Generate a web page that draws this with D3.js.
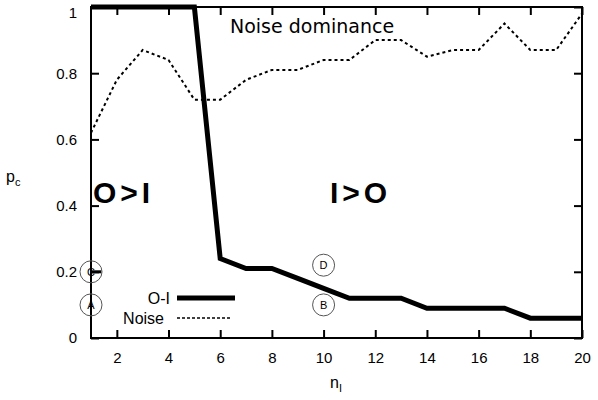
<!DOCTYPE html>
<html><head><meta charset="utf-8">
<script src="https://cdn.jsdelivr.net/npm/d3@7"></script>
<style>body{margin:0;background:#fff}svg{font-family:"Liberation Sans",Arial,sans-serif}</style>
</head><body><svg id="c" width="598" height="400"></svg>
<script>
let nValues = d3.range(1, 21);
let oiValues = [1, 1, 1, 1, 1, 0.24, 0.21, 0.21, 0.18, 0.15, 0.12, 0.12, 0.12, 0.09, 0.09, 0.09, 0.09, 0.06, 0.06, 0.06];
let noiseValues = [0.62, 0.78, 0.87, 0.84, 0.72, 0.72, 0.78, 0.81, 0.81, 0.84, 0.84, 0.9, 0.9, 0.85, 0.87, 0.87, 0.95, 0.87, 0.87, 0.98];
let xTicks = [2, 4, 6, 8, 10, 12, 14, 16, 18, 20];
let yTicks = [0, 0.2, 0.4, 0.6, 0.8, 1];
let markers = [{l: "C", n: 1, p: 0.2}, {l: "A", n: 1, p: 0.1}, {l: "D", n: 10, p: 0.22}, {l: "B", n: 10, p: 0.1}];

let svg = d3.select("#c");
let x = d3.scaleLinear().domain([1, 20]).range([91, 582]);
let y = d3.scaleLinear().domain([0, 1]).range([338, 7]);

// inward ticks on all sides
svg.append("g").attr("transform", "translate(0,338)")
  .call(d3.axisBottom(x).tickValues(xTicks).tickSize(-8).tickPadding(14).tickFormat(d3.format("d")));
svg.append("g").attr("transform", "translate(0,7)")
  .call(d3.axisTop(x).tickValues(xTicks).tickSize(-8).tickFormat(""));
svg.append("g").attr("class", "yax").attr("transform", "translate(91,0)")
  .call(d3.axisLeft(y).tickValues(yTicks).tickSize(-8).tickPadding(14).tickFormat(d => d === 0 || d === 1 ? d : d3.format(".1f")(d)));
svg.append("g").attr("transform", "translate(582,0)")
  .call(d3.axisRight(y).tickValues(yTicks).tickSize(-8).tickFormat(""));
svg.selectAll(".domain").remove();
svg.selectAll(".tick line").attr("stroke-width", 2);
svg.selectAll(".tick text").attr("font-size", 15).attr("fill", "#000");
svg.selectAll(".yax .tick text").filter(d => d === 1).attr("dy", "0.7em");
svg.append("rect").attr("x", 91).attr("y", 7).attr("width", 491).attr("height", 331)
  .attr("fill", "none").attr("stroke", "#000").attr("stroke-width", 2);

let line = d3.line().x((d, i) => x(nValues[i])).y(d => y(d));
svg.append("path").datum(noiseValues).attr("d", line).attr("fill", "none")
  .attr("stroke", "#000").attr("stroke-width", 2).attr("stroke-dasharray", "3,3");
svg.append("path").datum(oiValues).attr("d", line).attr("fill", "none")
  .attr("stroke", "#000").attr("stroke-width", 5);

svg.append("line").attr("x1", x(1)).attr("x2", x(1.4)).attr("y1", y(0.2)).attr("y2", y(0.2))
  .attr("stroke", "#000").attr("stroke-width", 3);
let mk = svg.selectAll(".mk").data(markers).enter().append("g")
  .attr("transform", d => `translate(${x(d.n)},${y(d.p)})`);
mk.append("circle").attr("r", 11).attr("fill", "none").attr("stroke", "#555").attr("stroke-width", 1);
mk.append("text").text(d => d.l).attr("text-anchor", "middle").attr("dy", 4).attr("font-size", 11);

// legend
svg.append("text").attr("x", 170).attr("y", 304).attr("text-anchor", "end").attr("font-size", 16).text("O-I");
svg.append("line").attr("x1", 177).attr("x2", 235).attr("y1", 298).attr("y2", 298).attr("stroke", "#000").attr("stroke-width", 5);
svg.append("text").attr("x", 164).attr("y", 324).attr("text-anchor", "end").attr("font-size", 16).text("Noise");
svg.append("line").attr("x1", 177).attr("x2", 232).attr("y1", 318).attr("y2", 318).attr("stroke", "#000").attr("stroke-width", 1.5).attr("stroke-dasharray", "3,2");

// annotations
svg.append("text").attr("x", 230).attr("y", 33).attr("font-family", "DejaVu Sans").attr("font-size", 19).text("Noise dominance");
svg.append("text").attr("x", 93).attr("y", 203).attr("font-size", 30).attr("font-weight", "bold").attr("letter-spacing", 4).text("O>I");
svg.append("text").attr("x", 330).attr("y", 203).attr("font-size", 30).attr("font-weight", "bold").attr("letter-spacing", 4).text("I>O");

// axis labels
svg.append("text").attr("x", 6).attr("y", 182).attr("font-size", 16).text("p").append("tspan").attr("font-size", 11).attr("dy", 4).text("c");
svg.append("text").attr("x", 330).attr("y", 388).attr("font-size", 16).text("n").append("tspan").attr("font-size", 11).attr("dy", 4).text("I");
</script></body></html>
